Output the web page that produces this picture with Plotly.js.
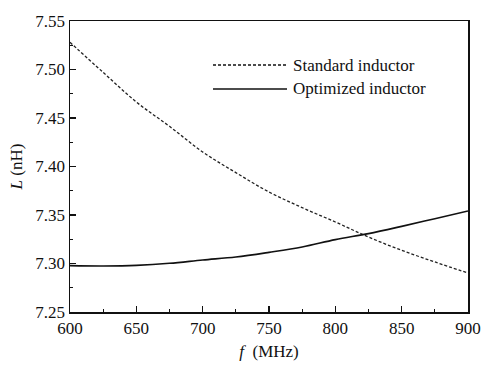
<!DOCTYPE html>
<html>
<head>
<meta charset="utf-8">
<script src="https://cdn.plot.ly/plotly-3.0.1.min.js"></script>
<style>html,body{margin:0;padding:0;background:#fff;}#chart{width:498px;height:371px;}</style>
</head>
<body>
<div id="chart"></div>
<script>
var freqMHz = [600, 625, 650, 675, 700, 725, 750, 775, 800, 825, 850, 875, 900];
var standardL = [7.528, 7.497, 7.4665, 7.4414, 7.415, 7.3937, 7.3737, 7.3576, 7.3428, 7.3273, 7.3136, 7.3016, 7.2902];
var optimizedL = [7.2978, 7.2975, 7.2981, 7.3002, 7.3036, 7.3067, 7.3115, 7.317, 7.3246, 7.3308, 7.3383, 7.3462, 7.3542];
var seriesNames = ["Standard inductor", "Optimized inductor"];

var W = 498, H = 371;
var M = {l: 70, r: 30, t: 21, b: 59};
var pw = W - M.l - M.r, ph = H - M.t - M.b;
function px(x) { return (x - M.l) / pw; }
function py(y) { return (H - M.b - y) / ph; }

var serif = "Liberation Serif, Times New Roman, serif";
var fs = 17;

var traces = [
  {x: freqMHz, y: standardL, mode: "lines", name: seriesNames[0], showlegend: false,
   line: {color: "#222", width: 1.3, dash: "3px,2px", shape: "spline"}},
  {x: freqMHz, y: optimizedL, mode: "lines", name: seriesNames[1], showlegend: false,
   line: {color: "#111", width: 1.6, shape: "spline"}}
];

var legendRows = [{y: 65, dash: "3px,2px", w: 1.3}, {y: 89, dash: "solid", w: 1.6}];
var shapes = [], annotations = [];
legendRows.forEach(function (r, i) {
  shapes.push({type: "line", xref: "paper", yref: "paper",
    x0: px(213), x1: px(287), y0: py(r.y), y1: py(r.y),
    line: {color: "#111", width: r.w, dash: r.dash}});
  annotations.push({xref: "paper", yref: "paper", x: px(291), y: py(r.y),
    xanchor: "left", yanchor: "middle", showarrow: false, text: seriesNames[i],
    font: {family: serif, size: fs, color: "#111"}});
});

var axisCommon = {
  showline: true, linecolor: "#111", linewidth: 1.5, mirror: true,
  ticks: "inside", ticklen: 6, tickwidth: 1.2, tickcolor: "#111",
  showgrid: false, zeroline: false,
  tickfont: {family: serif, size: fs, color: "#111"}
};

var layout = {
  width: W, height: H,
  margin: M,
  paper_bgcolor: "#fff", plot_bgcolor: "#fff",
  showlegend: false,
  xaxis: Object.assign({}, axisCommon, {
    range: [600, 900], dtick: 50, tick0: 600,
    minor: {ticks: "inside", dtick: 25, ticklen: 3, tickwidth: 1, tickcolor: "#111"},
    title: {text: "<i>f</i>  (MHz)", font: {family: serif, size: fs, color: "#111"}, standoff: 8}
  }),
  yaxis: Object.assign({}, axisCommon, {
    range: [7.25, 7.55], dtick: 0.05, tick0: 7.25, tickformat: ".2f",
    minor: {ticks: "inside", dtick: 0.025, ticklen: 3, tickwidth: 1, tickcolor: "#111"},
    title: {text: "<i>L</i> (nH)", font: {family: serif, size: fs, color: "#111"}, standoff: 8}
  }),
  shapes: shapes,
  annotations: annotations
};

Plotly.newPlot("chart", traces, layout, {staticPlot: true, displayModeBar: false});
</script>
</body>
</html>
